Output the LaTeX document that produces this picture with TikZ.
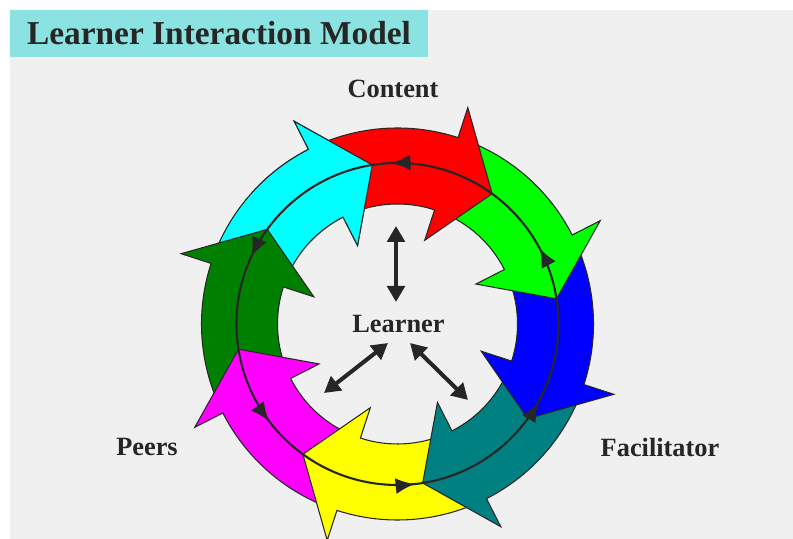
\documentclass[tikz,border=0pt]{standalone}
\usepackage{fontspec}
\setmainfont{Liberation Serif}
\usetikzlibrary{arrows.meta, decorations.markings}
\definecolor{bggray}{RGB}{240,240,240}
\definecolor{titlecyan}{RGB}{138,227,225}
\definecolor{ink}{RGB}{38,38,38}
\definecolor{ringred}{RGB}{255,0,0}
\definecolor{ringlime}{RGB}{0,255,0}
\definecolor{ringblue}{RGB}{0,0,255}
\definecolor{ringteal}{RGB}{0,128,128}
\definecolor{ringyellow}{RGB}{255,255,0}
\definecolor{ringmagenta}{RGB}{255,0,255}
\definecolor{ringgreen}{RGB}{0,128,0}
\definecolor{ringcyan}{RGB}{0,255,255}

% one curved arrow of the ring: #1 colour, #2 angle of its tip
\newcommand{\ringarrow}[2]{%
  \pgfmathsetmacro{\headbase}{#2+18}%
  \pgfmathsetmacro{\tailend}{#2+60}%
  \filldraw[ringpart, fill=#1] (\tailend:2.4) arc[start angle=\tailend, end angle=\headbase, radius=2.4]
    -- (\headbase:1.76) -- (#2:3.22) -- (\headbase:4.55) -- (\headbase:3.92)
    arc[start angle=\headbase, end angle=\tailend, radius=3.92] -- cycle;}

\begin{document}
\begin{tikzpicture}[
        every node/.style={font=\bfseries, text=ink},
        ringpart/.style={draw=ink, line width=0.6pt, line join=miter},
        ringlabel/.style={font=\fontsize{15}{18}\selectfont\bfseries},
        titlebox/.style={fill=titlecyan, inner sep=0pt, font=\fontsize{19}{23}\selectfont\bfseries,
            minimum width=8.36cm, minimum height=0.94cm},
        learnlink/.style={{Triangle[length=3.2mm,width=3.5mm]}-{Triangle[length=3.2mm,width=3.5mm]},
            line width=2.3pt, draw=ink},
        loopline/.style={draw=ink, line width=1.2pt, postaction={decorate},
            decoration={markings,
                mark=at position 0.078 with {\arrow{Latex[length=3.8mm,width=3.2mm]}},
                mark=at position 0.256 with {\arrow{Latex[length=3.8mm,width=3.2mm]}},
                mark=at position 0.431 with {\arrow{Latex[length=3.8mm,width=3.2mm]}},
                mark=at position 0.603 with {\arrow{Latex[length=3.8mm,width=3.2mm]}},
                mark=at position 0.767 with {\arrow{Latex[length=3.8mm,width=3.2mm]}},
                mark=at position 0.919 with {\arrow{Latex[length=3.8mm,width=3.2mm]}}}}
    ]
    \useasboundingbox (-7.95,-4.30) rectangle (7.91,6.48);
    \fill[bggray] (-7.75,-4.30) rectangle (7.91,6.28);

    % Title
    \node[titlebox] (title) at (-3.57,5.81) {Learner Interaction Model};

    % Ring of arrows, each head over the next tail
    \ringarrow{ringcyan}{99}
    \ringarrow{ringgreen}{144}
    \ringarrow{ringmagenta}{-171}
    \ringarrow{ringyellow}{-126}
    \ringarrow{ringteal}{-81}
    \ringarrow{ringblue}{-36}
    \ringarrow{ringlime}{9}
    \ringarrow{ringred}{54}
    % cyan head again, over the red tail
    \begin{scope}
        \clip (0,0) -- (88:6) -- (138:6) -- cycle;
        \ringarrow{ringcyan}{99}
    \end{scope}

    % Inner loop, counter-clockwise
    \path[loopline] (0:3.22) arc[start angle=0, end angle=360, radius=3.22];

    % Labels
    \node[ringlabel] (learner) at (0.02,-0.01) {Learner};
    \node[ringlabel] (content) at (-0.09,4.70) {Content};
    \node[ringlabel] (peers) at (-5.01,-2.47) {Peers};
    \node[ringlabel] (facilitator) at (5.25,-2.47) {Facilitator};

    % Links from the learner
    \coordinate (upfoot) at (-0.03,0.44);
    \coordinate (uphead) at (-0.03,1.96);
    \coordinate (leftfoot) at (-0.19,-0.38);
    \coordinate (lefthead) at (-1.47,-1.38);
    \coordinate (rightfoot) at (0.25,-0.38);
    \coordinate (righthead) at (1.41,-1.52);
    \draw[learnlink] (upfoot) -- (uphead);
    \draw[learnlink] (leftfoot) -- (lefthead);
    \draw[learnlink] (rightfoot) -- (righthead);
\end{tikzpicture}
\end{document}
